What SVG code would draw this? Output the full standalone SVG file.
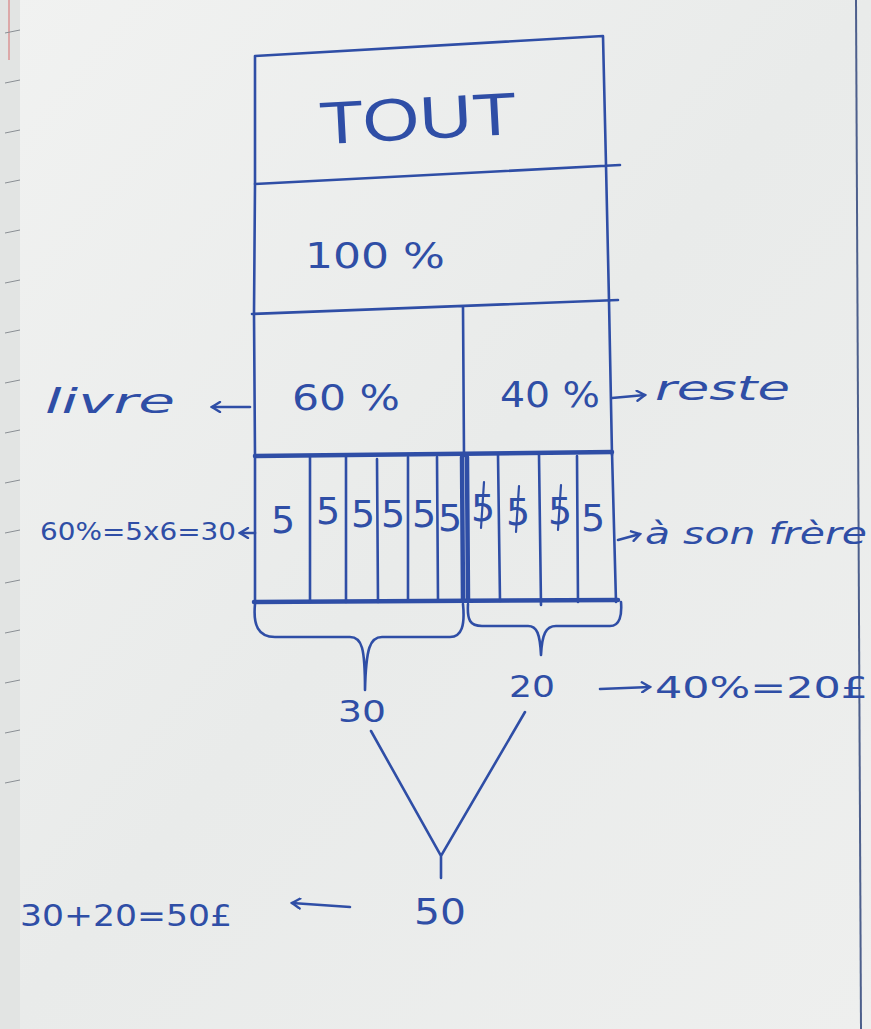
<svg xmlns="http://www.w3.org/2000/svg" width="871" height="1029" viewBox="0 0 871 1029">
  <defs>
    <linearGradient id="paper" x1="0" y1="0" x2="1" y2="1">
      <stop offset="0" stop-color="#f1f2f1"/>
      <stop offset="0.5" stop-color="#e9ebea"/>
      <stop offset="1" stop-color="#eeefee"/>
    </linearGradient>
    <marker id="open" viewBox="0 0 12 12" refX="10" refY="6" markerWidth="12" markerHeight="12" markerUnits="userSpaceOnUse" orient="auto">
      <polyline points="2,1 10,6 2,11" fill="none" stroke="#2f4ea6" stroke-width="2.4" stroke-linecap="round"/>
    </marker>
    <style>
      .ink { fill: none; stroke: #2f4ea6; stroke-width: 2.6; stroke-linecap: round; }
      .thin { fill: none; stroke: #2f4ea6; stroke-width: 2.2; stroke-linecap: round; }
      .bold { fill: none; stroke: #2f4ea6; stroke-width: 4.5; stroke-linecap: round; }
      .hand { fill: #2f4ea6; font-family: "DejaVu Sans", "Liberation Sans", sans-serif; }
      .print { fill: #2f4ea6; font-family: "Liberation Sans", sans-serif; font-weight: normal; }
    </style>
  </defs>

  <!-- paper -->
  <rect width="871" height="1029" fill="url(#paper)"/>
  <!-- edge of the neighbouring notebook page -->
  <g id="notebook-edge">
    <rect x="0" y="0" width="20" height="1029" fill="#e2e4e3"/>
    <line x1="9" y1="0" x2="9" y2="60" stroke="#d98080" stroke-width="1.2"/>
    <g stroke="#8a8f94" stroke-width="1">
      <line x1="5" y1="33" x2="20" y2="30"/>
      <line x1="5" y1="83" x2="20" y2="80"/>
      <line x1="5" y1="133" x2="20" y2="130"/>
      <line x1="5" y1="183" x2="20" y2="180"/>
      <line x1="5" y1="233" x2="20" y2="230"/>
      <line x1="5" y1="283" x2="20" y2="280"/>
      <line x1="5" y1="333" x2="20" y2="330"/>
      <line x1="5" y1="383" x2="20" y2="380"/>
      <line x1="5" y1="433" x2="20" y2="430"/>
      <line x1="5" y1="483" x2="20" y2="480"/>
      <line x1="5" y1="533" x2="20" y2="530"/>
      <line x1="5" y1="583" x2="20" y2="580"/>
      <line x1="5" y1="633" x2="20" y2="630"/>
      <line x1="5" y1="683" x2="20" y2="680"/>
      <line x1="5" y1="733" x2="20" y2="730"/>
      <line x1="5" y1="783" x2="20" y2="780"/>
    </g>
  </g>
  <line x1="856" y1="0" x2="861" y2="1029" stroke="#4d5f8c" stroke-width="2"/>

  <!-- whole bar -->
  <g id="node-tout">
    <path class="ink" d="M255,56 L603,36 M603,36 L606,165 M255,56 L255,184"/>
    <text class="print" x="418" y="139" font-size="60" text-anchor="middle" textLength="198" lengthAdjust="spacingAndGlyphs" transform="rotate(-3 418 120)">TOUT</text>
  </g>
  <g id="node-100">
    <path class="ink" d="M255,184 L620,165 M606,165 L609,301 M255,184 L254,314"/>
    <text class="hand" x="375" y="268" font-size="36" text-anchor="middle" textLength="140" lengthAdjust="spacingAndGlyphs">100 %</text>
  </g>
  <g id="node-60">
    <path class="ink" d="M252,314 L618,300 M254,314 L255,456 M463,307 L464,456"/>
    <text class="hand" x="346" y="410" font-size="36" text-anchor="middle" textLength="108" lengthAdjust="spacingAndGlyphs">60 %</text>
  </g>
  <g id="node-40">
    <path class="ink" d="M609,301 L612,455"/>
    <text class="hand" x="550" y="407" font-size="36" text-anchor="middle" textLength="100" lengthAdjust="spacingAndGlyphs">40 %</text>
  </g>

  <!-- row of ten 5% parts -->
  <g id="node-parts">
    <path class="bold" d="M255,456 L612,452 M254,602 L618,600"/>
    <path class="ink" d="M255,456 L255,602 M612,452 L616,602"/>
    <path class="ink" d="M310,457 L310,602 M346,457 L346,602 M377,459 L378,602 M408,457 L408,601 M437,457 L438,600 M498,455 L500,601 M539,455 L541,605 M577,456 L578,602"/>
    <path class="bold" d="M462,457 L463,601 M467,457 L468,600"/>
    <g class="hand" font-size="38" text-anchor="middle">
      <text x="283" y="533">5</text>
      <text x="328" y="524">5</text>
      <text x="363" y="527">5</text>
      <text x="393" y="527">5</text>
      <text x="424" y="527">5</text>
      <text x="450" y="531">5</text>
      <text x="483" y="521">5</text>
      <text x="518" y="525">5</text>
      <text x="560" y="524">5</text>
    </g>
    <text class="hand" x="593" y="531" font-size="38" text-anchor="middle">5</text>
    <!-- strokes through the three crossed-out fives -->
    <path class="thin" d="M484,482 L481,528 M519,486 L516,532 M561,485 L558,530"/>
  </g>

  <!-- side labels -->
  <g id="label-livre">
    <text class="hand" x="45" y="413" font-size="34" textLength="130" lengthAdjust="spacingAndGlyphs" font-style="italic">livre</text>
  </g>
  <g id="label-reste">
    <text class="hand" x="655" y="400" font-size="34" textLength="135" lengthAdjust="spacingAndGlyphs" font-style="italic">reste</text>
  </g>
  <g id="label-calc60">
    <text class="hand" x="40" y="540" font-size="24" textLength="196" lengthAdjust="spacingAndGlyphs">60%=5x6=30</text>
  </g>
  <g id="label-frere">
    <text class="hand" x="645" y="544" font-size="30" textLength="222" lengthAdjust="spacingAndGlyphs" font-style="italic">à son frère</text>
  </g>
  <g id="node-30">
    <text class="hand" x="362" y="722" font-size="30" text-anchor="middle" textLength="48" lengthAdjust="spacingAndGlyphs">30</text>
  </g>
  <g id="node-20">
    <text class="hand" x="532" y="697" font-size="30" text-anchor="middle" textLength="46" lengthAdjust="spacingAndGlyphs">20</text>
  </g>
  <g id="label-calc40">
    <text class="hand" x="655" y="698" font-size="30" textLength="213" lengthAdjust="spacingAndGlyphs">40%=20£</text>
  </g>
  <g id="node-50">
    <text class="hand" x="440" y="924" font-size="36" text-anchor="middle" textLength="52" lengthAdjust="spacingAndGlyphs">50</text>
  </g>
  <g id="label-sum">
    <text class="hand" x="20" y="926" font-size="30" textLength="212" lengthAdjust="spacingAndGlyphs">30+20=50£</text>
  </g>

  <!-- connectors: arrows, braces and the joining V -->
  <g id="connectors">
    <line class="ink" x1="250" y1="407" x2="212" y2="407" marker-end="url(#open)"/>
    <line class="ink" x1="612" y1="398" x2="645" y2="395" marker-end="url(#open)"/>
    <line class="ink" x1="255" y1="533" x2="240" y2="533" marker-end="url(#open)"/>
    <line class="ink" x1="618" y1="540" x2="640" y2="534" marker-end="url(#open)"/>
    <line class="ink" x1="600" y1="689" x2="650" y2="687" marker-end="url(#open)"/>
    <line class="ink" x1="350" y1="907" x2="292" y2="903" marker-end="url(#open)"/>
    <!-- brace under the first six parts -->
    <path class="ink" d="M255,604 C253,625 258,637 275,637 L350,637 C362,637 365,648 365,690 M365,690 C366,648 370,637 382,637 L450,637 C462,637 465,625 463,604"/>
    <!-- brace under the last four parts -->
    <path class="ink" d="M468,604 C467,620 470,626 482,626 L528,626 C537,626 540,634 541,655 M541,655 C542,634 546,626 556,626 L610,626 C620,626 622,615 621,602"/>
    <!-- V joining 30 and 20 into 50 -->
    <path class="ink" d="M371,731 L441,856 L525,712 M441,856 L441,878"/>
  </g>
</svg>
